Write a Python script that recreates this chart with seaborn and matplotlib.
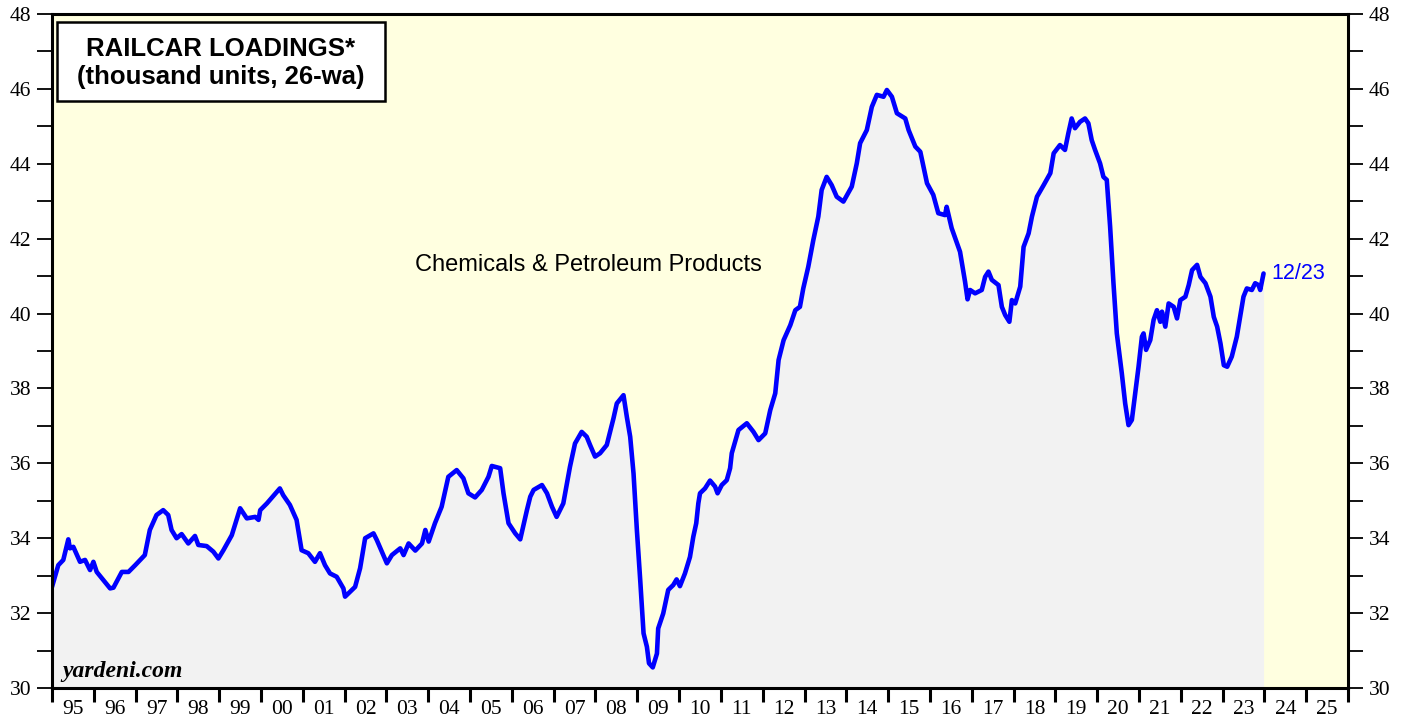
import matplotlib
matplotlib.use("Agg")
import matplotlib.pyplot as plt
import seaborn as sns
import pandas as pd
from matplotlib.patches import Rectangle
from matplotlib.ticker import MultipleLocator, FixedLocator, NullFormatter

# -----------------------------
# Data (26-week average, thousand units)
# -----------------------------

years = [
    1995.00, 1995.15, 1995.27, 1995.39, 1995.43, 1995.51, 1995.67, 1995.79, 1995.91, 1995.99,
    1996.07, 1996.23, 1996.39, 1996.47, 1996.67, 1996.83, 1996.99,
    1997.22, 1997.34, 1997.50, 1997.66, 1997.78, 1997.86, 1997.98,
    1998.10, 1998.26, 1998.42, 1998.50, 1998.70, 1998.86, 1998.98,
    1999.10, 1999.30, 1999.50, 1999.66, 1999.86, 1999.94, 1999.98,
    2000.14, 2000.45, 2000.53, 2000.69, 2000.85, 2000.97,
    2001.13, 2001.29, 2001.41, 2001.53, 2001.65, 2001.81, 2001.97,
    2002.01, 2002.25, 2002.37, 2002.49, 2002.69, 2002.77, 2002.89,
    2003.01, 2003.13, 2003.33, 2003.41, 2003.53, 2003.69, 2003.85, 2003.93,
    2004.01, 2004.16, 2004.32, 2004.48, 2004.68, 2004.84, 2004.96,
    2005.12, 2005.28, 2005.44, 2005.52, 2005.72, 2005.80, 2005.92,
    2006.08, 2006.20, 2006.36, 2006.44, 2006.52, 2006.72, 2006.84, 2006.96,
    2007.07, 2007.23, 2007.39, 2007.51, 2007.67, 2007.79, 2007.87, 2007.99,
    2008.11, 2008.27, 2008.43, 2008.51, 2008.67, 2008.75, 2008.83, 2008.91, 2008.99,
    2009.07, 2009.15, 2009.23, 2009.28, 2009.37, 2009.47, 2009.50, 2009.62, 2009.74, 2009.86, 2009.94,
    2010.02, 2010.14, 2010.26, 2010.34, 2010.41, 2010.46, 2010.50, 2010.62, 2010.74, 2010.86, 2010.92,
    2011.02, 2011.14, 2011.22, 2011.26, 2011.42, 2011.62, 2011.78, 2011.90,
    2012.06, 2012.18, 2012.30, 2012.38, 2012.50, 2012.66, 2012.78, 2012.89, 2012.97,
    2013.09, 2013.21, 2013.33, 2013.41, 2013.53, 2013.65, 2013.77, 2013.93,
    2014.13, 2014.25, 2014.33, 2014.49, 2014.61, 2014.73, 2014.89, 2014.97,
    2015.09, 2015.21, 2015.41, 2015.49, 2015.65, 2015.77, 2015.93,
    2016.08, 2016.20, 2016.36, 2016.40, 2016.52, 2016.72, 2016.84, 2016.90, 2016.96,
    2017.08, 2017.24, 2017.32, 2017.40, 2017.48, 2017.64, 2017.72, 2017.80, 2017.90, 2017.96,
    2018.04, 2018.16, 2018.24, 2018.36, 2018.44, 2018.56, 2018.72, 2018.88, 2018.96,
    2019.11, 2019.23, 2019.31, 2019.39, 2019.47, 2019.59, 2019.71, 2019.79, 2019.87, 2019.95,
    2020.07, 2020.15, 2020.23, 2020.31, 2020.39, 2020.47, 2020.59, 2020.67, 2020.75, 2020.83, 2020.91, 2020.99,
    2021.07, 2021.11, 2021.17, 2021.27, 2021.35, 2021.43, 2021.51, 2021.55, 2021.63, 2021.71, 2021.83, 2021.91, 2021.99,
    2022.11, 2022.19, 2022.27, 2022.39, 2022.47, 2022.59, 2022.71, 2022.79, 2022.87, 2022.95,
    2023.03, 2023.11, 2023.22, 2023.34, 2023.42, 2023.50, 2023.58, 2023.70, 2023.78, 2023.86, 2023.90, 2023.98,
]

loadings = [
    32.70, 33.28, 33.42, 33.97, 33.73, 33.77, 33.37, 33.42, 33.15, 33.37,
    33.10, 32.88, 32.66, 32.68, 33.10, 33.10, 33.28,
    33.55, 34.22, 34.62, 34.75, 34.62, 34.22, 34.00,
    34.11, 33.86, 34.06, 33.82, 33.79, 33.64, 33.46,
    33.68, 34.08, 34.80, 34.53, 34.57, 34.49, 34.75,
    34.93, 35.33, 35.15, 34.89, 34.49, 33.68,
    33.60, 33.37, 33.60, 33.28, 33.06, 32.97, 32.66,
    32.44, 32.70, 33.20, 34.00, 34.13, 33.95, 33.64,
    33.33, 33.55, 33.73, 33.55, 33.86, 33.67, 33.86, 34.22,
    33.91, 34.40, 34.84, 35.64, 35.82, 35.60, 35.20,
    35.09, 35.29, 35.64, 35.93, 35.87, 35.20, 34.40,
    34.13, 33.97, 34.75, 35.11, 35.29, 35.42, 35.20, 34.84,
    34.57, 34.93, 35.91, 36.53, 36.84, 36.71, 36.49, 36.18,
    36.27, 36.49, 37.20, 37.60, 37.82, 37.24, 36.71, 35.73, 34.22,
    32.88, 31.46, 31.10, 30.66, 30.55, 30.92, 31.59, 31.99, 32.62, 32.75, 32.90,
    32.72, 33.06, 33.50, 34.04, 34.40, 34.93, 35.20, 35.33, 35.54, 35.38, 35.20,
    35.42, 35.55, 35.87, 36.27, 36.89, 37.07, 36.84, 36.62,
    36.80, 37.42, 37.87, 38.76, 39.29, 39.69, 40.09, 40.18, 40.67,
    41.25, 41.96, 42.59, 43.30, 43.65, 43.43, 43.12, 42.99,
    43.39, 44.01, 44.55, 44.90, 45.52, 45.84, 45.79, 45.97,
    45.79, 45.35, 45.21, 44.90, 44.46, 44.32, 43.48,
    43.17, 42.68, 42.63, 42.85, 42.28, 41.65, 40.85, 40.38, 40.63,
    40.54, 40.63, 40.98, 41.12, 40.90, 40.76, 40.18, 39.96, 39.78, 40.36,
    40.27, 40.72, 41.78, 42.14, 42.59, 43.12, 43.43, 43.75, 44.28,
    44.50, 44.37, 44.81, 45.21, 44.95, 45.12, 45.21, 45.08, 44.63, 44.37,
    44.01, 43.65, 43.57, 42.32, 40.81, 39.47, 38.40, 37.60, 37.02, 37.16, 37.87, 38.58,
    39.38, 39.47, 39.03, 39.29, 39.83, 40.09, 39.78, 40.05, 39.65, 40.27, 40.18, 39.87, 40.36,
    40.45, 40.76, 41.16, 41.30, 40.98, 40.81, 40.45, 39.91, 39.65, 39.20,
    38.62, 38.58, 38.85, 39.38, 39.91, 40.45, 40.67, 40.63, 40.81, 40.76, 40.63, 41.07,
]

year_labels = ["95", "96", "97", "98", "99", "00", "01", "02", "03", "04", "05",
               "06", "07", "08", "09", "10", "11", "12", "13", "14", "15", "16",
               "17", "18", "19", "20", "21", "22", "23", "24", "25"]

series_name = "Chemicals & Petroleum Products"
last_label = "12/23"

df = pd.DataFrame({"year": years, "loadings": loadings})

# -----------------------------
# Style
# -----------------------------

sns.set_style("ticks")
plt.rcParams["font.family"] = ["Liberation Sans", "DejaVu Sans"]
plt.rcParams["text.color"] = "black"
plt.rcParams["xtick.color"] = "black"
plt.rcParams["ytick.color"] = "black"
plt.rcParams["xtick.labelcolor"] = "black"
plt.rcParams["ytick.labelcolor"] = "black"

serif = ["Liberation Serif", "DejaVu Serif"]

fig = plt.figure(figsize=(14.08, 7.21), dpi=100)
ax = fig.add_axes([52 / 1408, 1 - 688 / 721, 1296 / 1408, 674 / 721])
ax.set_facecolor("#FFFFE0")

# -----------------------------
# Plot
# -----------------------------

ax.fill_between(df["year"], 30, df["loadings"], color="#F2F2F2", zorder=1, linewidth=0)
sns.lineplot(data=df, x="year", y="loadings", color="#0000FF", linewidth=3.3,
             estimator=None, ax=ax, zorder=3)

ax.set_xlim(1995, 2026)
ax.set_ylim(30, 48)
ax.set_xlabel("")
ax.set_ylabel("")

# x axis: ticks on year boundaries, labels centred inside each year
ax.xaxis.set_major_locator(MultipleLocator(1))
ax.xaxis.set_major_formatter(NullFormatter())
ax.xaxis.set_minor_locator(FixedLocator([1995.5 + i for i in range(len(year_labels))]))
ax.set_xticklabels(year_labels, minor=True, fontfamily=serif)
ax.tick_params(axis="x", which="major", direction="out", length=10, width=2.2)
ax.tick_params(axis="x", which="minor", length=0, pad=9, labelsize=15.5)

# y axis: both sides
ax.yaxis.set_major_locator(MultipleLocator(2))
ax.yaxis.set_minor_locator(MultipleLocator(1))
ax.tick_params(axis="y", which="major", direction="out", length=11, width=1.3,
               left=True, right=True, labelleft=True, labelright=True, labelsize=15.5, pad=4)
ax.tick_params(axis="y", which="minor", direction="out", length=11, width=1.3,
               left=True, right=True)

for t in ax.yaxis.get_major_ticks():
    t.label1.set_fontfamily(serif)
    t.label2.set_fontfamily(serif)

for side in ["left", "right", "top", "bottom"]:
    ax.spines[side].set_visible(True)
    ax.spines[side].set_linewidth(2.2)
    ax.spines[side].set_color("black")
    ax.spines[side].set_zorder(5)

# -----------------------------
# Annotations
# -----------------------------

ax.add_patch(Rectangle((0.0039, 0.8709), 0.2530, 0.1172, transform=ax.transAxes,
                       facecolor="white", edgecolor="black", linewidth=1.8, zorder=6))
ax.text(0.1304, 0.9480, "RAILCAR LOADINGS*", transform=ax.transAxes, ha="center",
        va="center", fontsize=18.5, fontweight="bold", zorder=7)
ax.text(0.1304, 0.9065, "(thousand units, 26-wa)", transform=ax.transAxes, ha="center",
        va="center", fontsize=18.5, fontweight="bold", zorder=7)

ax.text(0.4136, 0.6276, series_name, transform=ax.transAxes, ha="center", va="center",
        fontsize=17, zorder=6)

ax.text(years[-1] + 0.18, loadings[-1], last_label, ha="left", va="center",
        fontsize=15.5, color="#0000FF", zorder=6)

ax.text(0.0077, 0.0163, "yardeni.com", transform=ax.transAxes, ha="left", va="baseline",
        fontsize=17, fontweight="bold", fontstyle="italic", family=serif, zorder=6)

plt.savefig("out.png", dpi=100, facecolor="white")
